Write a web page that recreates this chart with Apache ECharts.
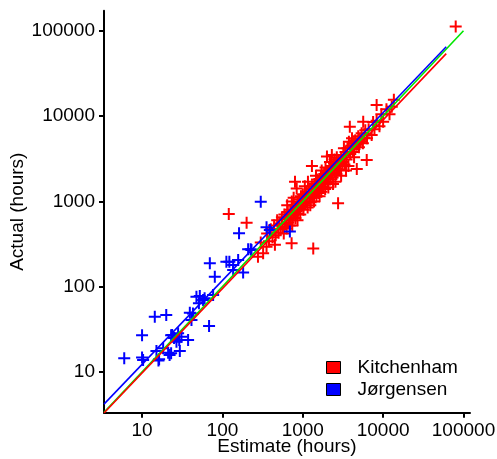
<!DOCTYPE html>
<html><head><meta charset="utf-8">
<script src="https://cdn.jsdelivr.net/npm/echarts@6/dist/echarts.min.js"></script>
<style>html,body{margin:0;padding:0;background:#fff}#c{width:497px;height:459px}</style>
</head><body><div id="c"></div>
<script>
// [estimate, actual] in hours
const kitchenham = [
  [120,710],[200,560],
  [277,225],[321,246],[354,294],[300,330],[360,420],[380,340],[400,470],[420,380],[450,310],[440,520],
  [460,400],[480,600],[500,430],[510,550],[530,470],[550,650],[560,500],[580,420],[590,700],[600,540],
  [620,620],[630,480],[650,750],[660,560],[680,640],[700,800],[710,600],[720,690],[730,1000],[726,323],
  [740,520],[750,900],[760,680],[780,760],[800,1700],[810,640],[820,850],[840,1420],[850,720],[870,950],
  [880,780],[900,1050],[910,820],[930,700],[950,1150],[960,880],[980,1000],[1000,900],[1000,1200],[1350,280],
  [1020,800],[1050,1100],[1080,950],[1100,1300],[1120,1000],[1150,850],[1180,1250],[1200,1100],[1220,1400],[1250,980],
  [1280,1200],[1300,2600],[1300,1500],[1320,1100],[1350,1300],[1380,1000],[1400,1600],[1420,1250],[1450,1400],[1480,1150],
  [1500,1800],[1520,1350],[1550,1500],[1580,1250],[1600,1700],[1650,1450],[1680,2000],[1700,1300],[1750,1600],[1780,1900],
  [1800,1500],[1850,2100],[1880,1700],[1900,1400],[1950,1850],[2000,3350],[2000,2200],[2050,1650],[2100,2000],[2150,2400],
  [2200,1800],[2250,2600],[2300,3500],[2300,2100],[2350,1900],[2400,2500],[2450,2800],[2500,2200],[2550,1700],[2600,2700],
  [2650,3300],[2700,2400],[2750,2350],[2800,3000],[2850,2600],[2750,950],[2950,2800],[3000,3200],[3000,2000],[3100,2900],
  [3200,3500],[3300,2700],[3400,3800],[3500,3100],[3600,4200],[3700,2600],[3850,7500],[3900,3600],[4000,4500],[4100,5500],
  [4200,3800],[4300,4800],[4400,4100],[4500,5200],[4700,2400],[4700,4600],[4900,5800],[5000,4300],[5140,5250],[5200,5000],
  [5400,6300],[5650,8600],[5600,4800],[5800,5600],[6000,6800],[6250,3050],[6300,5500],[6600,7000],[7200,6000],[7500,8500],
  [7800,7000],[8300,13500],[8300,8800],[9000,7600],[9500,10500],[10000,8600],[11000,12000],[12000,10500],[12800,12900],[13600,15500],
  [640,900],[690,520],[770,1100],[860,600],[1060,1500],[1160,1700],[1240,900],[1460,2000],[1620,1150],[1720,2300],
  [1920,2500],[2080,1450],[2180,2900],[2380,1600],[2480,3100],[2620,2100],[3250,4200],[3450,2300],[3750,5000],[4350,3300],
  [80000,112000]
];
const jorgensen = [
  [6,14.5],[10,14.8],[10.3,13.8],[10,27],[14.4,44.5],[20,46.5],[15.1,17.6],[16.3,14.1],[16,13.6],[18.3,19],
  [21.1,16.8],[23,16.6],[22,15.8],[23.7,27.2],[26.8,22.6],[25,25],[28.1,28.5],[29.5,17.6],[30.9,25.9],[37.4,23.7],
  [39.3,49.6],[43,48.5],[41.2,40.7],[47.5,76.4],[52.3,77.8],[51,64],[57.5,69.8],[60,73],[68.2,34.6],[69.7,188],
  [80.4,131],[76.6,80],[112,196],[122,196],[136,179],[157,205],[136,157],[161,423],[181,147],[209,274],
  [225,274],[230,269],[300,990],[354,497],[389,462],[691,442],[23,27],[29,23.7]
];
const kitchenhamFit = [[3.36,3.3],[61000,54000]];
const jorgensenFit = [[3.36,4.2],[61000,65000]];
const identityLine = [[3.36,3.36],[100000,100000]];
const seriesNames = ['Kitchenham','Jørgensen'];
const axisTitles = {x:'Estimate (hours)', y:'Actual (hours)'};

const plus = 'path://M5,0H7V5H12V7H7V12H5V7H0V5H5Z';
const FONT = 'Liberation Sans, Arial, sans-serif';
const FS = 19;
const chart = echarts.init(document.getElementById('c'), null, {renderer:'canvas'});
const axisCommon = {
  type:'log', logBase:10,
  nameLocation:'middle', nameMoveOverlap:false,
  nameTextStyle:{fontSize:FS, color:'#000', fontFamily:FONT},
  axisLine:{show:true, lineStyle:{color:'#000', width:2}},
  axisTick:{show:true, length:5, lineStyle:{color:'#000', width:2}},
  axisLabel:{fontSize:FS, color:'#000', fontFamily:FONT, margin:9, showMinLabel:false, showMaxLabel:false,
    formatter:v=>String(Math.round(v))},
  splitLine:{show:false}, minorTick:{show:false}
};
chart.setOption({
  animation:false,
  grid:{left:104, right:27, top:10.7, bottom:46.3, containLabel:false, outerBoundsMode:'none'},
  xAxis:Object.assign({}, axisCommon, {min:3.36, max:120500, name:axisTitles.x, nameGap:25}),
  yAxis:Object.assign({}, axisCommon, {min:3.33, max:172000, name:axisTitles.y, nameGap:77}),
  legend:{data:seriesNames, orient:'vertical', left:321, top:353, padding:5, itemWidth:14, itemHeight:12, itemGap:3,
    icon:'rect', itemStyle:{borderColor:'#000', borderWidth:1},
    textStyle:{fontSize:FS, color:'#000', fontFamily:FONT, padding:[0,0,0,12]}},
  series:[
    {type:'scatter', name:seriesNames[0], data:kitchenham, symbol:plus, symbolSize:12,
      itemStyle:{color:'#ff0000', opacity:1}, z:2},
    {type:'scatter', name:seriesNames[1], data:jorgensen, symbol:plus, symbolSize:12,
      itemStyle:{color:'#0000ff', opacity:1}, z:3},
    {type:'line', data:identityLine, symbol:'none', lineStyle:{color:'#00e600', width:1.6}, z:4, silent:true},
    {type:'line', data:kitchenhamFit, symbol:'none', lineStyle:{color:'#ff0000', width:1.6}, z:5, silent:true},
    {type:'line', data:jorgensenFit, symbol:'none', lineStyle:{color:'#0000ff', width:1.6}, z:6, silent:true}
  ]
});
</script></body></html>
